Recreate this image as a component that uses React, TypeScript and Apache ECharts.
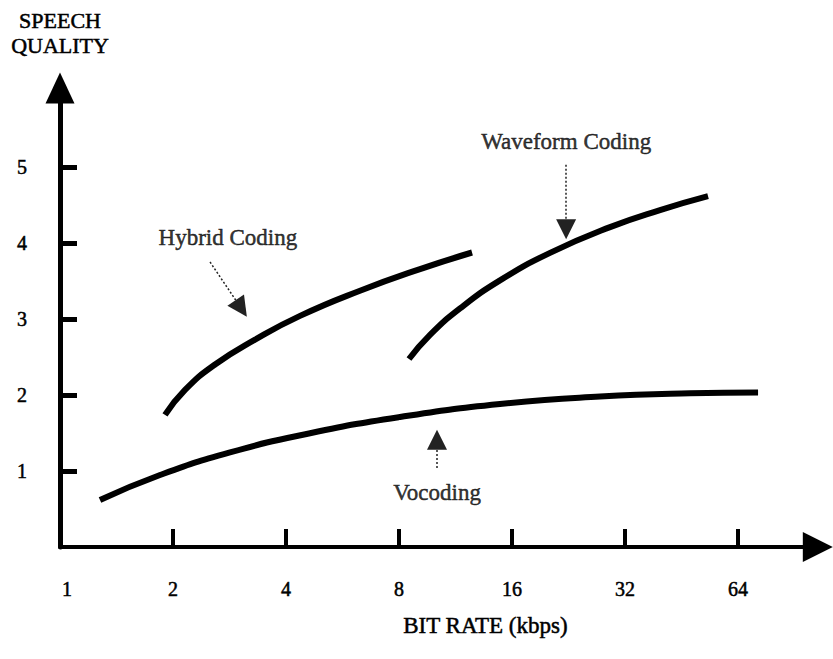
import { useEffect, useRef } from 'react';
import * as echarts from 'echarts';

// Axis ticks / labels
const bitRateTicks = [2, 4, 8, 16, 32, 64];
const bitRateLabels = [1, 2, 4, 8, 16, 32, 64];
const qualityTicks = [1, 2, 3, 4, 5];

// Curves (bit rate in kbps, speech quality)
const vocodingRate = [1.278, 1.847, 2.837, 4.635, 8.049, 14.86, 27.45, 47.68, 72.36];
const vocodingQuality = [0.618, 0.947, 1.245, 1.497, 1.711, 1.882, 1.98, 2.022, 2.032];

const hybridRate = [1.904, 2.153, 2.588, 3.308, 4.359, 6.297, 9.1, 12.52];
const hybridQuality = [1.737, 2.066, 2.401, 2.728, 3.041, 3.372, 3.657, 3.875];

const waveformRate = [8.505, 9.675, 11.63, 14.86, 20.2, 29.19, 39.66, 53.24];
const waveformQuality = [2.474, 2.792, 3.139, 3.508, 3.87, 4.209, 4.433, 4.616];

// Annotations (in data coordinates)
const annotationNames = ['Hybrid Coding', 'Waveform Coding', 'Vocoding'];
const annotationLabelAt = [[2.8, 4.07], [22.3, 5.33], [10.1, 0.72]];
const annotationArrowFrom = [[2.51, 3.75], [22.3, 5.03], [10.1, 1.04]];
const annotationArrowTo = [[3.04, 3.14], [22.3, 4.18], [10.1, 1.41]];

const FONT = '"Liberation Serif", "Times New Roman", serif';
const INK = '#000';
const inkText = { color: INK, textBorderColor: INK, textBorderWidth: 0.5 };

const zip = (xs: number[], ys: number[]) => xs.map((x, i) => [x, ys[i]]);

export default function App() {
  const ref = useRef<HTMLDivElement>(null);

  useEffect(() => {
    if (!ref.current) return;
    const chart = echarts.init(ref.current, undefined, { renderer: 'svg' });

    const curveStyle = { color: '#000', width: 6, cap: 'butt' as const };

    const option: any = {
      animation: false,
      backgroundColor: '#fff',
      grid: { left: 60, right: 22.2, top: 91, bottom: 112, containLabel: false },
      xAxis: {
        type: 'log',
        logBase: 2,
        min: 1,
        max: 100,
        name: 'BIT RATE (kbps)',
        nameLocation: 'middle',
        nameGap: 67,
        nameTextStyle: {
          fontFamily: FONT,
          fontSize: 23,
          ...inkText,
          padding: [0, 0, 0, 100],
        },
        axisLine: {
          show: true,
          symbol: ['none', 'triangle'],
          symbolSize: [30, 30],
          symbolOffset: [0, 7],
          lineStyle: { color: '#000', width: 4 },
        },
        axisTick: {
          show: true,
          inside: true,
          length: 18,
          customValues: bitRateTicks,
          lineStyle: { color: '#000', width: 4 },
        },
        axisLabel: {
          show: true,
          customValues: bitRateLabels,
          margin: 32,
          fontFamily: FONT,
          fontSize: 20,
          ...inkText,
          formatter: (v: number) => (v === 1 ? '{one|1}' : String(v)),
          rich: {
            one: { fontFamily: FONT, fontSize: 20, ...inkText, padding: [0, 0, 0, 14] },
          },
        },
        splitLine: { show: false },
      },
      yAxis: {
        type: 'value',
        min: 0,
        max: 6,
        interval: 1,
        name: 'SPEECH\nQUALITY',
        nameLocation: 'end',
        nameGap: 33,
        nameTextStyle: {
          fontFamily: FONT,
          fontSize: 22,
          lineHeight: 25,
          ...inkText,
          align: 'center',
        },
        axisLine: {
          show: true,
          symbol: ['none', 'triangle'],
          symbolSize: [29, 31],
          symbolOffset: [0, 3],
          lineStyle: { color: '#000', width: 5 },
        },
        axisTick: {
          show: true,
          inside: true,
          length: 17,
          customValues: qualityTicks,
          lineStyle: { color: '#000', width: 5 },
        },
        axisLabel: {
          show: true,
          customValues: qualityTicks,
          margin: 33,
          fontFamily: FONT,
          fontSize: 20,
          ...inkText,
        },
        splitLine: { show: false },
      },
      series: [
        {
          name: 'Vocoding',
          type: 'line',
          data: zip(vocodingRate, vocodingQuality),
          smooth: 0.5,
          showSymbol: false,
          lineStyle: curveStyle,
          silent: true,
        },
        {
          name: 'Hybrid Coding',
          type: 'line',
          data: zip(hybridRate, hybridQuality),
          smooth: 0.5,
          showSymbol: false,
          lineStyle: curveStyle,
          silent: true,
        },
        {
          name: 'Waveform Coding',
          type: 'line',
          data: zip(waveformRate, waveformQuality),
          smooth: 0.5,
          showSymbol: false,
          lineStyle: curveStyle,
          silent: true,
        },
        {
          name: 'annotations',
          type: 'scatter',
          symbolSize: 1,
          itemStyle: { color: 'rgba(0,0,0,0)' },
          silent: true,
          data: annotationNames.map((n, i) => ({ name: n, value: annotationLabelAt[i] })),
          label: {
            show: true,
            position: 'inside',
            formatter: '{b}',
            fontFamily: FONT,
            fontSize: 23,
            ...inkText,
          },
          markLine: {
            silent: true,
            symbol: ['none', 'triangle'],
            symbolSize: 20,
            label: { show: false },
            lineStyle: { color: '#222', width: 1.5, type: [2, 2] },
            itemStyle: { color: '#000' },
            data: annotationNames.map((_, i) => [
              { coord: annotationArrowFrom[i] },
              { coord: annotationArrowTo[i] },
            ]),
          },
        },
      ],
    };

    chart.setOption(option);
    return () => chart.dispose();
  }, []);

  return (
    <div
      ref={ref}
      style={{ position: 'absolute', left: 0, top: 0, width: 833, height: 659, background: '#fff' }}
    />
  );
}
